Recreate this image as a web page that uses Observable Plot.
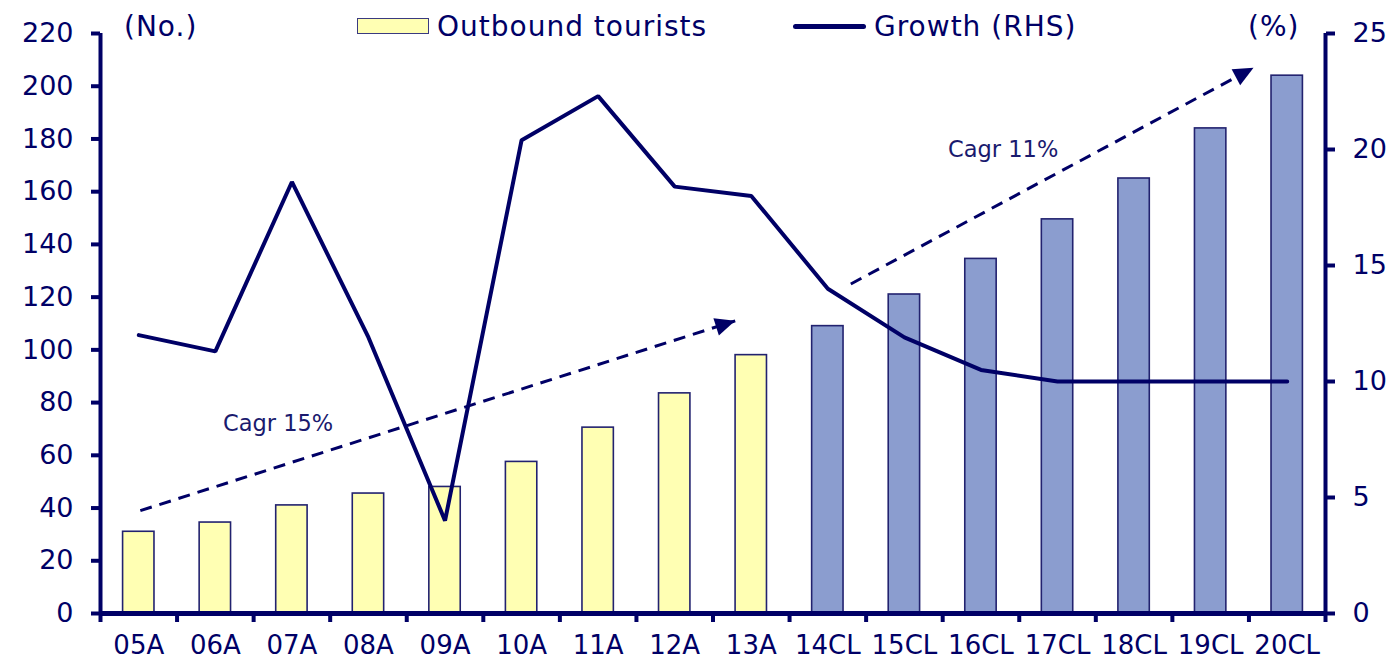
<!DOCTYPE html>
<html>
<head>
<meta charset="utf-8">
<script src="https://cdn.jsdelivr.net/npm/d3@7"></script>
<script src="https://cdn.jsdelivr.net/npm/@observablehq/plot@0.6"></script>
<style>
  html, body { margin: 0; padding: 0; background: #fff; }
  #wrap { position: relative; width: 1400px; height: 666px; font-family: "DejaVu Sans", Verdana, sans-serif; color: #000066; }
  .lbl { position: absolute; font-size: 28px; letter-spacing: 1px; line-height: 1; white-space: nowrap; }
  .box { position: absolute; width: 70px; height: 14px; background: #FFFFB3; border: 1.5px solid #3a3a80; }
  .ln { position: absolute; height: 5px; border-radius: 3px; background: #000066; }
</style>
</head>
<body>
<div id="wrap">
  <div id="chart"></div>
  <div class="lbl" style="left:124px; top:13px;">(No.)</div>
  <div class="box" style="left:357px; top:18px;"></div>
  <div class="lbl" style="left:437px; top:13px;">Outbound tourists</div>
  <div class="ln" style="left:793px; top:24px; width:73px;"></div>
  <div class="lbl" style="left:874px; top:13px;">Growth (RHS)</div>
  <div class="lbl" style="left:1248px; top:13px;">(%)</div>
</div>
<script>
const categories = ["05A","06A","07A","08A","09A","10A","11A","12A","13A","14CL","15CL","16CL","17CL","18CL","19CL","20CL"];
const tourists = [31, 34.5, 41, 45.5, 48, 57.5, 70.5, 83.5, 98, 109, 121, 134.5, 149.5, 165, 184, 204];
const growth = [12.0, 11.3, 18.6, 11.9, 4.0, 20.4, 22.3, 18.4, 18.0, 14.0, 11.9, 10.5, 10.0, 10.0, 10.0, 10.0];
const leftTicks = d3.range(0, 221, 20);
const rightTicks = [0, 5, 10, 15, 20, 25];
const cagrText = ["Cagr 15%", "Cagr 11%"];
const cagrTextPos = [1.82, 11.29];
const cagrTextVal = [72, 176];
const cagrFrom = [0.02, 9.30];
const cagrFromVal = [39, 125];
const cagrTo = [7.79, 14.56];
const cagrToVal = [111, 207];

const NAVY = "#000066";
const YMAX = 220, RMAX = 25, K = YMAX / RMAX;

const data = categories.map((c, i) => ({i, c, v: tourists[i], g: growth[i] * K, forecast: c.endsWith("CL")}));
const arrows = cagrText.map((t, j) => ({x1: cagrFrom[j], y1: cagrFromVal[j], x2: cagrTo[j], y2: cagrToVal[j]}));
const notes = cagrText.map((t, j) => ({t, x: cagrTextPos[j], y: cagrTextVal[j]}));
const half = 0.205;

const plot = Plot.plot({
  width: 1400,
  height: 666,
  marginLeft: 100,
  marginRight: 75,
  marginTop: 33,
  marginBottom: 53,
  style: {fontFamily: "'DejaVu Sans', Verdana, sans-serif", color: NAVY, background: "transparent"},
  x: {domain: [-0.5, categories.length - 0.5]},
  y: {domain: [0, YMAX]},
  marks: [
    Plot.rectY(data, {
      x1: d => d.i - half, x2: d => d.i + half, y1: 0, y2: "v",
      fill: d => d.forecast ? "#8B9DCF" : "#FFFFB3",
      stroke: "#22226f", strokeWidth: 1.6
    }),
    Plot.link(arrows, {
      x1: "x1", y1: "y1", x2: "x2", y2: "y2",
      stroke: NAVY, strokeWidth: 3, strokeDasharray: "12,8",
      render(index, scales, values, dimensions, context, next) {
        const g = next(index, scales, values, dimensions, context);
        const X1 = values.x1, Y1 = values.y1, X2 = values.x2, Y2 = values.y2;
        for (const i of index) {
          const a = Math.atan2(Y2[i] - Y1[i], X2[i] - X1[i]);
          const L = 20, W = 9;
          const bx = X2[i] - L * Math.cos(a), by = Y2[i] - L * Math.sin(a);
          const px = -Math.sin(a) * W, py = Math.cos(a) * W;
          const p = document.createElementNS("http://www.w3.org/2000/svg", "path");
          p.setAttribute("d", `M${X2[i]},${Y2[i]}L${bx + px},${by + py}L${bx - px},${by - py}Z`);
          p.setAttribute("fill", NAVY);
          p.setAttribute("stroke", "none");
          g.appendChild(p);
        }
        return g;
      }
    }),
    Plot.line(data, {x: "i", y: "g", stroke: NAVY, strokeWidth: 4, strokeLinejoin: "miter"}),
    Plot.text(notes, {x: "x", y: "y", text: "t", fill: "#1a1a6e", fontSize: 22.5}),
    Plot.ruleY([0], {stroke: NAVY, strokeWidth: 5}),
    Plot.ruleX([-0.5, categories.length - 0.5], {stroke: NAVY, strokeWidth: 4}),
    Plot.axisY({anchor: "left", ticks: leftTicks, tickSize: 9, tickPadding: 18, strokeWidth: 4, stroke: NAVY, fill: NAVY, fontSize: 27, label: null}),
    Plot.axisY({anchor: "right", ticks: rightTicks.map(t => t * K), tickFormat: d => String(Math.round(d / K)), tickSize: 9, tickPadding: 18, strokeWidth: 4, stroke: NAVY, fill: NAVY, fontSize: 27, label: null}),
    Plot.axisX({anchor: "bottom", ticks: d3.range(-0.5, categories.length, 1), tickFormat: () => "", tickSize: 9, strokeWidth: 4, stroke: NAVY, label: null}),
    Plot.axisX({anchor: "bottom", ticks: d3.range(categories.length), tickFormat: i => categories[i], tickSize: 0, tickPadding: 22, fill: NAVY, fontSize: 26, label: null})
  ]
});
document.getElementById("chart").appendChild(plot);
</script>
</body>
</html>
